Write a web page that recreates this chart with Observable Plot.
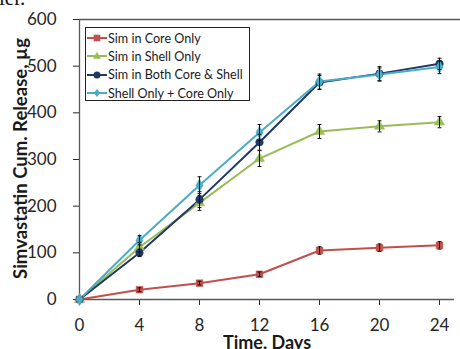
<!DOCTYPE html>
<html>
<head>
<meta charset="utf-8">
<script src="https://cdn.jsdelivr.net/npm/d3@7"></script>
<script src="https://cdn.jsdelivr.net/npm/@observablehq/plot@0.6"></script>
<style>
  html, body { margin: 0; padding: 0; background: white; }
  #wrap { position: relative; width: 460px; height: 349px; overflow: hidden; font-family: Lato, "Open Sans", sans-serif; }
  #frag { position: absolute; left: -1px; top: -14px; font-family: "Liberation Serif", serif; font-size: 21px; color: #111; }
  #legend { position: absolute; left: 85px; top: 27px; width: 163px; height: 71px; border: 1.3px solid #222; background: white; padding-top: 1px; box-sizing: content-box; }
  .row { display: flex; align-items: center; height: 18.3px; font-size: 12.6px; color: #1a1a1a; white-space: nowrap; }
  .row svg { margin-left: 1px; margin-right: 1px; }
</style>
</head>
<body>
<div id="wrap">
  <div id="frag">ler.</div>
  <div id="chart"></div>
  <div id="legend"></div>
</div>
<script>
const days = [0, 4, 8, 12, 16, 20, 24];
const seriesNames = ["Sim in Core Only", "Sim in Shell Only", "Sim in Both Core & Shell", "Shell Only + Core Only"];
const seriesColors = ["#C0504D", "#9BBB59", "#1F3864", "#4BACC6"];
const seriesSymbols = ["square", "triangle", "circle", "diamond"];

const coreOnly      = [0, 21, 35, 54, 105, 111, 116];
const shellOnly     = [0, 112, 207, 302, 360, 371, 380];
const bothCoreShell = [0, 100, 214, 337, 465, 484, 505];
const shellPlusCore = [0, 127, 245, 358, 467, 482, 498];

const coreErr  = [0, 4, 4, 5, 8, 8, 8];
const shellErr = [0, 10, 16, 17, 15, 12, 12];
const bothErr  = [0, 8, 17, 17, 15, 15, 12];
const sumErr   = [0, 10, 18, 17, 16, 14, 14];

const yTicks = [0, 100, 200, 300, 400, 500, 600];
const yTitle = "Simvastatin Cum. Release, µg";
const xTitle = "Time, Days";

const values = [coreOnly, shellOnly, bothCoreShell, shellPlusCore];
const errors = [coreErr, shellErr, bothErr, sumErr];

const data = [];
seriesNames.forEach((s, i) => {
  days.forEach((d, j) => {
    data.push({series: s, day: d, value: values[i][j], err: errors[i][j]});
  });
});
const errData = data.filter(d => d.err > 0);
const capHalf = 0.13;

const chart = Plot.plot({
  width: 460,
  height: 349,
  marginLeft: 79,
  marginRight: 6,
  marginTop: 19,
  marginBottom: 50,
  style: {fontFamily: "Lato, 'Open Sans', sans-serif", fontSize: "17px", color: "#262626", background: "transparent", overflow: "visible"},
  x: {domain: [0, 25], ticks: days, tickSize: 6, tickPadding: 13, label: null},
  y: {domain: [0, 600], ticks: yTicks, tickSize: 6, tickPadding: 17, label: null},
  color: {domain: seriesNames, range: seriesColors},
  symbol: {domain: seriesNames, range: seriesSymbols},
  marks: [
    Plot.ruleY([600], {stroke: "#595959", strokeWidth: 1.3, x1: 0, x2: 25.5}),
    Plot.ruleX([0], {stroke: "#595959", strokeWidth: 1.3}),
    Plot.ruleY([0], {stroke: "#595959", strokeWidth: 1.3}),
    Plot.line(data, {x: "day", y: "value", z: "series", stroke: "series", strokeWidth: 2}),
    Plot.dot(data, {x: "day", y: "value", symbol: "series", fill: "series", stroke: "series", strokeWidth: 0.5, r: 3.8}),
    Plot.ruleX(errData, {x: "day", y1: d => d.value - d.err, y2: d => d.value + d.err, stroke: "#111", strokeWidth: 1}),
    Plot.link(errData, {x1: d => d.day - capHalf, x2: d => d.day + capHalf, y1: d => d.value + d.err, y2: d => d.value + d.err, stroke: "#111", strokeWidth: 1}),
    Plot.link(errData, {x1: d => d.day - capHalf, x2: d => d.day + capHalf, y1: d => d.value - d.err, y2: d => d.value - d.err, stroke: "#111", strokeWidth: 1}),
    Plot.text([yTitle], {frameAnchor: "left", textAnchor: "middle", rotate: -90, dx: -58, dy: -1, fontWeight: "bold", fontSize: 18.5, fill: "#1a1a1a"}),
    Plot.text([xTitle], {frameAnchor: "bottom", textAnchor: "middle", lineAnchor: "middle", dy: 44, fontWeight: "bold", fontSize: 18, fill: "#1a1a1a"})
  ]
});
document.getElementById("chart").appendChild(chart);

const legend = document.getElementById("legend");
const symPath = {
  square: "M-3.3,-3.3h6.6v6.6h-6.6z",
  triangle: "M0,-4.2L3.9,2.8L-3.9,2.8z",
  circle: "M3.5,0A3.5,3.5 0 1 1 -3.5,0A3.5,3.5 0 1 1 3.5,0",
  diamond: "M0,-4L3.2,0L0,4L-3.2,0z"
};
seriesNames.forEach((s, i) => {
  const row = document.createElement("div");
  row.className = "row";
  row.innerHTML = `<svg width="20" height="10" viewBox="-10 -5 20 10"><line x1="-10" x2="10" y1="0" y2="0" stroke="${seriesColors[i]}" stroke-width="2"/><path d="${symPath[seriesSymbols[i]]}" fill="${seriesColors[i]}"/></svg><span>${s.replace("&", "&amp;")}</span>`;
  legend.appendChild(row);
});
</script>
</body>
</html>
